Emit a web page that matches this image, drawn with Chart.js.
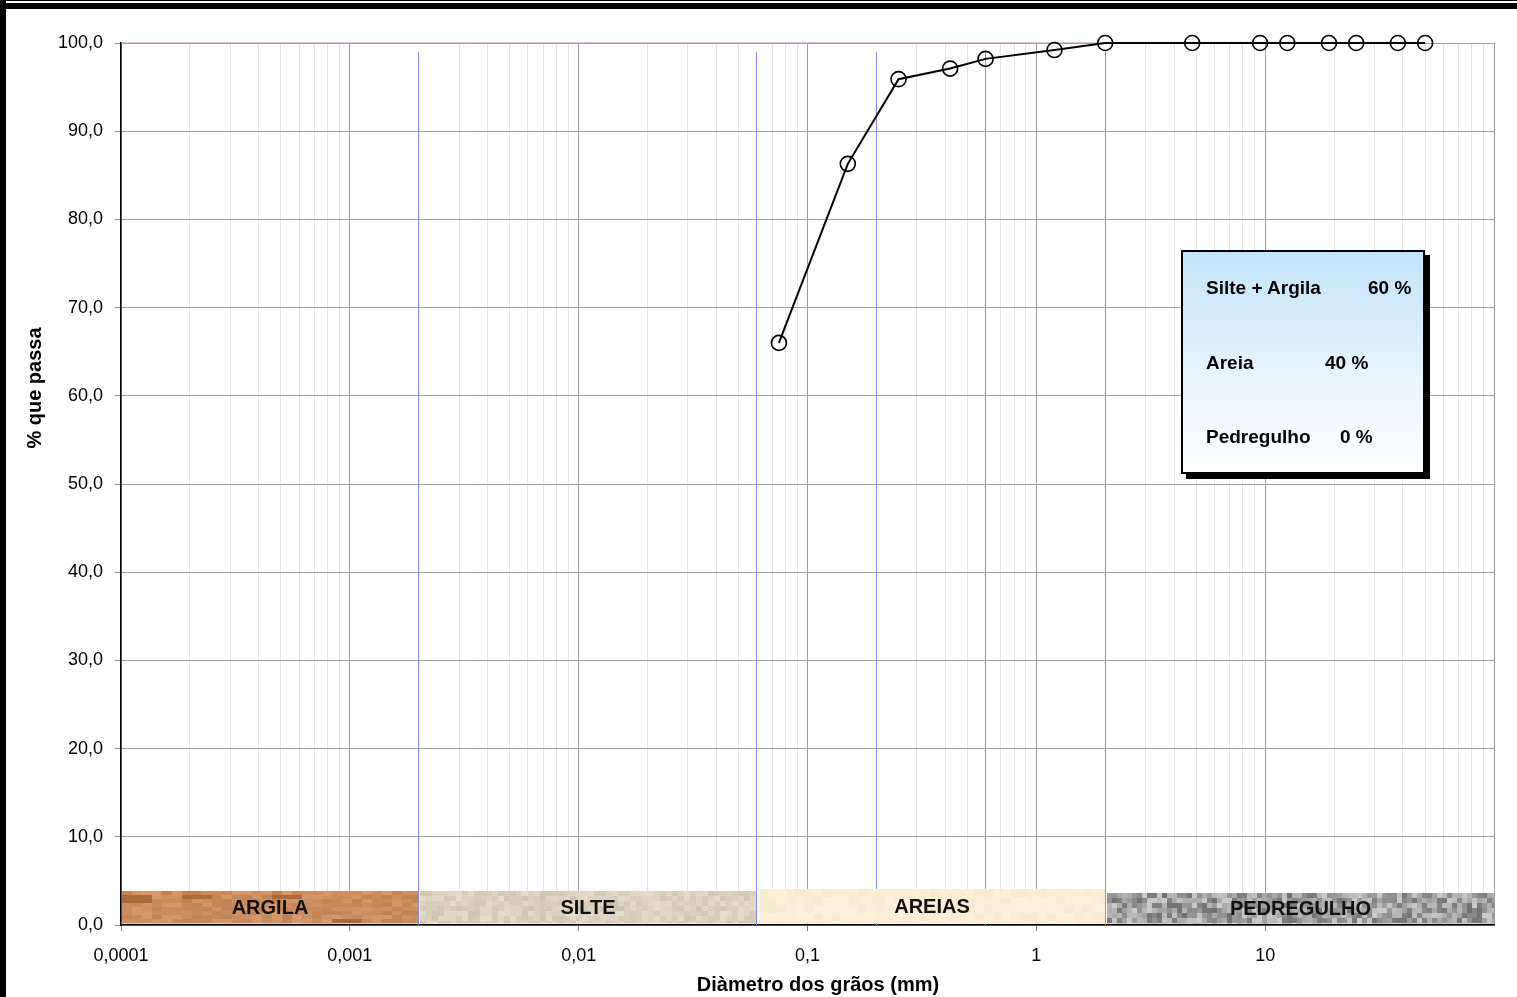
<!DOCTYPE html>
<html lang="pt">
<head>
<meta charset="utf-8">
<title>Curva granulométrica</title>
<script src="https://cdn.jsdelivr.net/npm/chart.js@4.4.1/dist/chart.umd.min.js"></script>
<style>
  html, body { margin: 0; padding: 0; background: #fff; }
  #wrap { position: absolute; left: 0; top: 0; width: 1517px; height: 997px; overflow: hidden; }
  #chart { position: absolute; left: 0; top: 0; }
  .frame { position: absolute; background: #000; z-index: 5; }
  #resumo {
    position: absolute; left: 1181px; top: 250px; width: 240px; height: 220px;
    border: 2px solid #000; box-shadow: 5px 5px 0 #000;
    background: linear-gradient(to bottom, #c4e4fb 0%, #e6f4fd 55%, #ffffff 100%);
    font: bold 19px 'Liberation Sans', Arial, sans-serif; color: #000; z-index: 4;
  }
  #resumo span { position: absolute; line-height: 20px; white-space: nowrap; }
</style>
</head>
<body>
<div id="wrap">
  <canvas id="chart"></canvas>
  <div class="frame" style="left:0;top:0;width:1517px;height:1px"></div>
  <div class="frame" style="left:0;top:3px;width:1517px;height:6px"></div>
  <div class="frame" style="left:0;top:0;width:6px;height:997px"></div>
  <div id="resumo"></div>
</div>
<script>
// peneiramento: diametro (mm) e % que passa
const diametros = [0.075, 0.15, 0.25, 0.42, 0.6, 1.2, 2.0, 4.8, 9.5, 12.5, 19, 25, 38, 50];
const passante  = [66.0, 86.3, 95.9, 97.1, 98.2, 99.2, 100, 100, 100, 100, 100, 100, 100, 100];

// faixas granulométricas
const faixas = ['ARGILA', 'SILTE', 'AREIAS', 'PEDREGULHO'];
const limitesFaixas = [0.0001, 0.002, 0.06, 2, 100];
const linhasLimite = [0.002, 0.06, 0.2, 0.6, 2];

// eixos
const xMajor = [0.0001, 0.001, 0.01, 0.1, 1, 10];
const xTickLabels = ['0,0001', '0,001', '0,01', '0,1', '1', '10'];
const yTicks = [0, 10, 20, 30, 40, 50, 60, 70, 80, 90, 100];

// quadro resumo
const resumoLabels = ['Silte + Argila', 'Areia', 'Pedregulho'];
const resumoValores = ['60 %', '40 %', '0 %'];

// grid lines of the log axis: 1..9 x 10^n in every decade
const xGrid = [];
xMajor.forEach(d => { for (let m = 1; m <= 9; m++) xGrid.push(+(m * d).toPrecision(6)); });
xGrid.push(100);

const isDecade = v => Math.abs(Math.log10(v) - Math.round(Math.log10(v))) < 1e-9;
const isLimite = v => linhasLimite.some(l => Math.abs(l - v) / l < 1e-6);
const snap = px => Math.round(px - 0.5) + 0.5;

// summary box
const resumo = document.getElementById('resumo');
const rowTop = [26, 101, 175];
const valLeft = [185, 142, 157];
resumoLabels.forEach((lab, i) => {
  const a = document.createElement('span');
  a.textContent = lab; a.style.left = '23px'; a.style.top = rowTop[i] + 'px';
  const b = document.createElement('span');
  b.textContent = resumoValores[i]; b.style.left = valLeft[i] + 'px'; b.style.top = rowTop[i] + 'px';
  resumo.appendChild(a); resumo.appendChild(b);
});

// texture helpers for the soil strips (deterministic)
const hash = (i, j, s) => {
  const t = Math.sin(i * 12.9898 + j * 78.233 + s * 37.719) * 43758.5453;
  return t - Math.floor(t);
};
const texturas = [
  { base: [203, 142, 96], vary: 12, bw: 10, bh: 4, streak: [172, 104, 62], topPad: 34, seed: 1 },
  { base: [219, 209, 190], vary: 12, bw: 6, bh: 5, streak: null, topPad: 34, seed: 2 },
  { base: [251, 238, 214], vary: 4, bw: 9, bh: 8, streak: null, topPad: 36, seed: 3 },
  { base: [158, 158, 158], vary: 46, bw: 5, bh: 5, streak: null, topPad: 32, seed: 4 }
];
const insets = [[1, 1], [1, 1], [2, 0], [2, 0]];

const zonasPlugin = {
  id: 'zonas',
  beforeDatasetsDraw(chart) {
    const { ctx, scales: { x, y } } = chart;
    const yBottom = y.getPixelForValue(0);
    ctx.save();

    // purple top line
    ctx.strokeStyle = '#b48fc0';
    ctx.lineWidth = 1.2;
    ctx.beginPath();
    ctx.moveTo(x.getPixelForValue(limitesFaixas[0]), y.getPixelForValue(100));
    ctx.lineTo(x.getPixelForValue(2), y.getPixelForValue(100));
    ctx.stroke();

    // blue limit lines
    ctx.strokeStyle = '#8a8af5';
    ctx.lineWidth = 1;
    linhasLimite.forEach(v => {
      const px = snap(x.getPixelForValue(v));
      ctx.beginPath();
      ctx.moveTo(px, y.getPixelForValue(99));
      ctx.lineTo(px, yBottom);
      ctx.stroke();
    });

    // soil strips
    faixas.forEach((nome, i) => {
      const t = texturas[i];
      const x0 = Math.round(x.getPixelForValue(limitesFaixas[i])) + insets[i][0];
      const x1 = Math.round(x.getPixelForValue(limitesFaixas[i + 1])) - insets[i][1];
      const y1 = yBottom - 1.5;
      const y0 = yBottom - t.topPad;
      ctx.save();
      ctx.beginPath();
      ctx.rect(x0, y0, x1 - x0, y1 - y0);
      ctx.clip();
      for (let bx = 0; x0 + bx * t.bw < x1; bx++) {
        for (let by = 0; y0 + by * t.bh < y1; by++) {
          const r = hash(bx, by, t.seed);
          let c = t.base.map(ch => Math.max(0, Math.min(255, Math.round(ch + (r - 0.5) * 2 * t.vary))));
          if (t.streak && hash(Math.floor(bx / 3), by, t.seed + 9) > 0.88) c = t.streak;
          ctx.fillStyle = `rgb(${c[0]},${c[1]},${c[2]})`;
          ctx.fillRect(x0 + bx * t.bw, y0 + by * t.bh, t.bw, t.bh);
        }
      }
      ctx.restore();
      ctx.fillStyle = '#111';
      ctx.font = "bold 20px 'Liberation Sans Narrow', 'Liberation Sans', Arial, sans-serif";
      ctx.textAlign = 'center';
      ctx.textBaseline = 'middle';
      ctx.fillText(nome, (x0 + x1) / 2, (y0 + y1) / 2 + 1);
    });
    ctx.restore();
  },
  afterDraw(chart) {
    const { ctx } = chart;
    ctx.save();
    ctx.fillStyle = '#000';
    ctx.font = "bold 20px 'Liberation Sans', Arial, sans-serif";
    ctx.textAlign = 'center';
    ctx.textBaseline = 'middle';
    ctx.fillText('Diàmetro dos grãos (mm)', 818, 985);
    ctx.translate(35, 388);
    ctx.rotate(-Math.PI / 2);
    ctx.fillText('% que passa', 0, 0);
    ctx.restore();
  }
};

Chart.defaults.font.family = "'Liberation Sans', Arial, sans-serif";
Chart.defaults.color = '#000';

const canvas = document.getElementById('chart');
canvas.width = 1517;
canvas.height = 997;

new Chart(canvas, {
  type: 'scatter',
  data: {
    datasets: [{
      label: '% que passa',
      data: diametros.map((d, i) => ({ x: d, y: passante[i] })),
      showLine: true,
      borderColor: '#000',
      borderWidth: 2,
      tension: 0,
      pointRadius: 7.5,
      pointHoverRadius: 7.5,
      pointBorderWidth: 1.6,
      pointBorderColor: '#000',
      pointBackgroundColor: 'rgba(0,0,0,0)',
      clip: false
    }]
  },
  options: {
    responsive: false,
    animation: false,
    layout: { padding: { top: 43, right: 23, left: 0, bottom: 0 } },
    plugins: { legend: { display: false }, tooltip: { enabled: false } },
    scales: {
      x: {
        type: 'logarithmic',
        min: 0.0001,
        max: 100,
        afterBuildTicks: axis => { axis.ticks = xGrid.map(v => ({ value: v })); },
        afterFit: scale => { scale.height = 72; },
        ticks: {
          autoSkip: false,
          maxRotation: 0,
          padding: 14,
          font: { size: 18 },
          callback: value => {
            const i = xMajor.findIndex(m => Math.abs(m - value) / m < 1e-6);
            return i >= 0 ? xTickLabels[i] : '';
          }
        },
        grid: {
          color: c => (isLimite(c.tick.value) ? 'rgba(0,0,0,0)' : isDecade(c.tick.value) ? '#9c9c9c' : '#e4e4e4'),
          tickColor: c => (isDecade(c.tick.value) && c.tick.value < 100 ? '#808080' : 'rgba(0,0,0,0)'),
          tickLength: 6,
          lineWidth: 1
        },
        border: { display: true, color: '#000', width: 1.5 }
      },
      y: {
        min: 0,
        max: 100,
        afterBuildTicks: axis => { axis.ticks = yTicks.map(v => ({ value: v })); },
        afterFit: scale => { scale.width = 121; },
        ticks: {
          padding: 12,
          font: { size: 18 },
          callback: v => v.toFixed(1).replace('.', ',')
        },
        grid: { color: '#a0a0a0', tickColor: '#909090', tickLength: 6, lineWidth: 1 },
        border: { display: true, color: '#000', width: 1.5 }
      }
    }
  },
  plugins: [zonasPlugin]
});
</script>
</body>
</html>
